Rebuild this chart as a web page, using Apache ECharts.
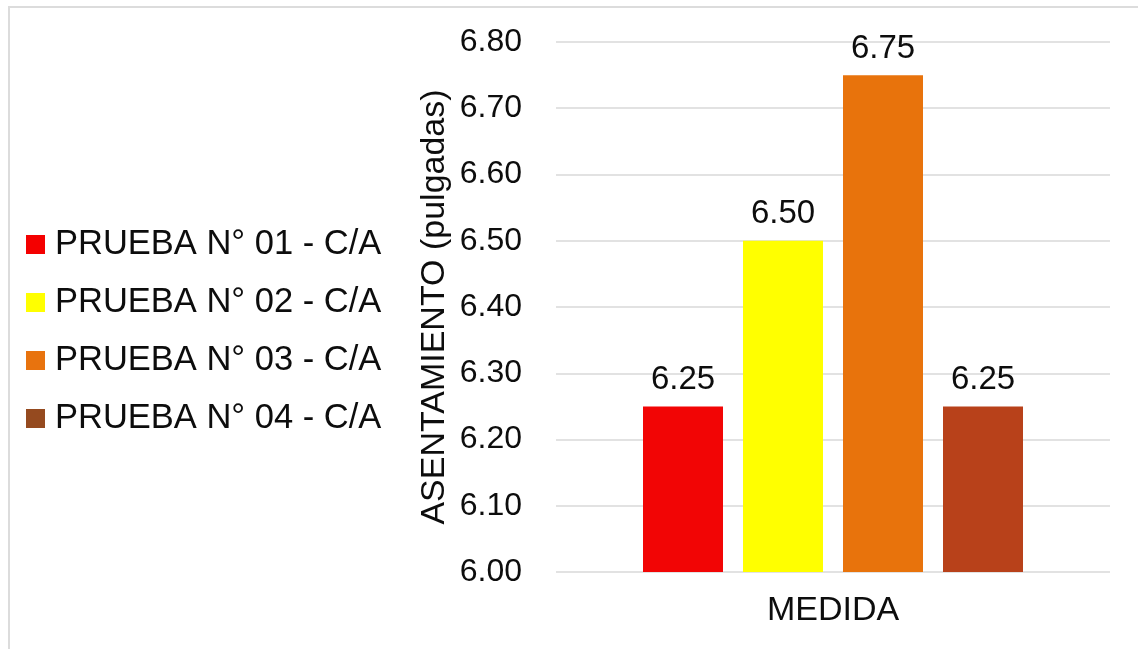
<!DOCTYPE html>
<html>
<head>
<meta charset="utf-8">
<script src="https://cdn.jsdelivr.net/npm/echarts@6/dist/echarts.min.js"></script>
<style>
  html, body { margin: 0; padding: 0; background: #fff; }
  #chart { width: 1138px; height: 649px; }
</style>
</head>
<body>
<div id="chart"></div>
<script>
// Slump test results (asentamiento, in inches) for four trial mixes
const categories = ['MEDIDA'];
const seriesNames = [
  'PRUEBA N° 01 - C/A',
  'PRUEBA N° 02 - C/A',
  'PRUEBA N° 03 - C/A',
  'PRUEBA N° 04 - C/A'
];
const slumpValues = [6.25, 6.50, 6.75, 6.25];
const barColors = ['#f20505', '#ffff00', '#e8730c', '#b8411a'];
const legendColors = ['#f40000', '#ffff00', '#e8730e', '#954a1f'];
const yTicks = { min: 6.0, max: 6.8, step: 0.1 };

const FONT = '"Liberation Sans", Arial, sans-serif';
const TEXT = '#0d0d0d';

const chart = echarts.init(document.getElementById('chart'), null, { renderer: 'canvas' });

const series = seriesNames.map((name, i) => ({
  name: name,
  type: 'bar',
  data: [slumpValues[i]],
  barWidth: 80,
  barGap: '25%',
  itemStyle: { color: barColors[i] },
  label: {
    show: true,
    position: 'top',
    distance: 10,
    formatter: p => p.value.toFixed(2),
    fontFamily: FONT,
    fontSize: 33,
    color: TEXT
  }
}));

chart.setOption({
  animation: false,
  backgroundColor: '#ffffff',
  graphic: [{
    type: 'rect',
    shape: { x: 9, y: 7, width: 1200, height: 700 },
    style: { fill: 'none', stroke: '#dcdcdc', lineWidth: 2 },
    silent: true
  }],
  legend: {
    orient: 'vertical',
    left: 26,
    top: 227,
    padding: 0,
    itemWidth: 19,
    itemHeight: 19,
    itemGap: 23,
    icon: 'rect',
    textStyle: { fontFamily: FONT, fontSize: 34.5, color: TEXT, padding: [0, 0, 0, 5] },
    data: seriesNames.map((n, i) => ({ name: n, itemStyle: { color: legendColors[i] } }))
  },
  grid: { left: 556, right: 28, top: 42, bottom: 77, containLabel: false },
  xAxis: {
    type: 'category',
    data: categories,
    axisLine: { show: false },
    axisTick: { show: false },
    axisLabel: { fontFamily: FONT, fontSize: 34, color: TEXT, margin: 22 }
  },
  yAxis: {
    type: 'value',
    min: yTicks.min,
    max: yTicks.max,
    interval: yTicks.step,
    name: 'ASENTAMIENTO (pulgadas)',
    nameLocation: 'middle',
    nameGap: 104,
    nameTextStyle: { fontFamily: FONT, fontSize: 34, color: TEXT },
    axisLine: { show: false },
    axisTick: { show: false },
    axisLabel: {
      fontFamily: FONT,
      fontSize: 32,
      color: TEXT,
      margin: 34,
      formatter: v => v.toFixed(2)
    },
    splitLine: { lineStyle: { color: '#d9d9d9', width: 1.5 } }
  },
  series: series
});
</script>
</body>
</html>
